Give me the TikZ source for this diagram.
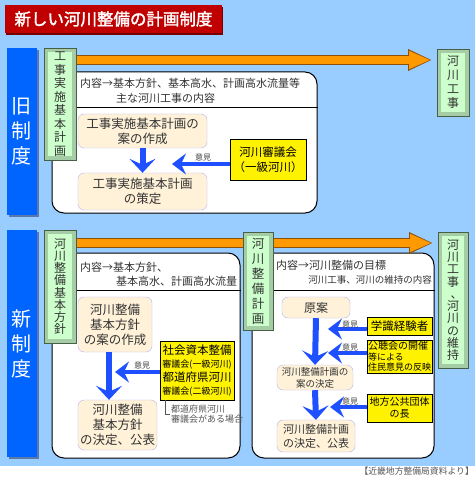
\documentclass[tikz,border=0pt]{standalone}
\usepackage{fontspec}
\setmainfont{Noto Sans CJK JP}
\newfontfamily\bannerfont[FakeBold=2]{Noto Sans CJK JP}
\usetikzlibrary{arrows.meta,positioning,shadows}

\definecolor{skyback}{RGB}{153,204,255}
\definecolor{banner}{RGB}{192,0,0}
\definecolor{bannerdark}{RGB}{120,0,0}
\definecolor{tabblue}{RGB}{0,100,255}
\definecolor{tabshade}{RGB}{90,120,170}
\definecolor{labelgreen}{RGB}{204,255,204}
\definecolor{bevelgreen}{RGB}{165,205,165}
\definecolor{edgegreen}{RGB}{70,95,70}
\definecolor{arroworange}{RGB}{255,153,0}
\definecolor{orangeedge}{RGB}{140,80,10}
\definecolor{draftbeige}{RGB}{255,242,217}
\definecolor{draftedge}{RGB}{180,180,240}
\definecolor{flowblue}{RGB}{30,80,255}
\definecolor{notegray}{RGB}{85,85,85}

\begin{document}
\begin{tikzpicture}[x=1pt,y=-1pt,
  tab/.style={fill=tabblue,text=white,align=center,inner sep=0pt,font=\fontsize{20}{25}\selectfont,
    drop shadow={shadow xshift=2pt,shadow yshift=-2pt,fill=tabshade,opacity=1}},
  vlabel/.style={draw=edgegreen,fill=bevelgreen,line width=0.6pt,inner sep=0pt,align=center,text=black!80,
    font=\fontsize{12}{13.5}\selectfont,
    path picture={\fill[labelgreen] ([shift={(4pt,-4pt)}]path picture bounding box.north west) rectangle ([shift={(-4pt,4pt)}]path picture bounding box.south east);}},
  panel/.style={draw,line width=1pt,fill=white,rounded corners=12pt},
  head/.style={anchor=west,inner sep=0pt,text=black!80,font=\fontsize{11}{13}\selectfont},
  draft/.style={draw=draftedge,fill=draftbeige,rounded corners=6pt,align=center,inner sep=1pt,text=black!80,font=\fontsize{12.5}{15}\selectfont},
  council/.style={draw,fill=yellow,line width=0.7pt,align=center,inner sep=1pt,font=\fontsize{11.5}{15}\selectfont},
  flow/.style={-{Stealth[length=14pt,width=26pt,inset=6pt]},draw=flowblue,line width=6pt},
  opinion/.style={-{Stealth[length=14pt,width=21pt,inset=5pt]},draw=flowblue,line width=4.5pt},
  iken/.style={inner sep=0pt,text=black!75,font=\fontsize{8}{8}\selectfont},
  orangeline/.style={draw=orangeedge,line width=10.5pt,-{Triangle[length=24pt,width=20pt]}},
  orangefill/.style={draw=arroworange,line width=8.5pt,-{Triangle[length=21.5pt,width=16.5pt]}}]

\useasboundingbox (0,0) rectangle (475,478);
\fill[skyback] (0,0) rectangle (475,466);

\node[fill=banner,text=white,minimum width=217pt,minimum height=28pt,inner sep=0pt,font=\bannerfont\fontsize{16.5}{18}\selectfont,
  drop shadow={shadow xshift=1pt,shadow yshift=-2pt,fill=bannerdark,opacity=1}] (title) at (113.5,19) {新しい河川整備の計画制度};

\node[tab,minimum width=30pt,minimum height=167pt] (oldtab) at (22,131.5) {旧\\制\\度};
\node[tab,minimum width=30pt,minimum height=227pt] (newtab) at (22,343.5) {新\\制\\度};

% old system
\node[panel,minimum width=265pt,minimum height=141pt] (oldpanel) at (184.5,142.5) {};
\draw[line width=0.9pt] ([yshift=-36pt]oldpanel.north west) -- ([yshift=-36pt]oldpanel.north east);
\node[head] (oldhead) at (80,83) {内容→基本方針、基本高水、計画高水流量等};
\node[head] (oldhead2) at (116,98) {主な河川工事の内容};

\coordinate (o1) at (432,60);
\draw[orangeline] (76,60) -- (o1);
\draw[orangefill] (76,60) -- ([xshift=-1.3pt]o1);

\node[vlabel,minimum width=32pt,minimum height=112pt] (oldlbl) at (60,104) {工\\事\\実\\施\\基\\本\\計\\画};
\node[vlabel,minimum width=32pt,minimum height=67pt,font=\fontsize{12}{14}\selectfont] (works) at (453,82.5) {河\\川\\工\\事};

\node[draft,minimum width=129pt,minimum height=34pt] (draft) at (142.5,131) {工事実施基本計画の\\案の作成};
\node[draft,minimum width=129pt,minimum height=37pt] (decided) at (142.5,191.5) {工事実施基本計画\\の策定};
\node[council,minimum width=76pt,minimum height=41pt] (council) at (268,159.5) {河川審議会\\（一級河川）};

\draw[flow] (draft.south) -- (decided.north);
\coordinate (t0) at (172,164);
\draw[opinion] (council.west |- t0) -- (t0);
\node[iken] (iken0) at (203,157) {意見};

% new system
\node[panel,minimum width=188pt,minimum height=205pt] (policypanel) at (146,355.5) {};
\node[panel,minimum width=182pt,minimum height=205pt] (planpanel) at (343,355.5) {};
\draw[line width=0.9pt] ([yshift=-38pt]policypanel.north west) -- ([yshift=-38pt]policypanel.north east);
\draw[line width=0.9pt] ([yshift=-38pt]planpanel.north west) -- ([yshift=-38pt]planpanel.north east);
\node[head] (polhead) at (80,267) {内容→基本方針、};
\node[head] (polhead2) at (116,281) {基本高水、計画高水流量};
\node[head] (planhead) at (276,265) {内容→河川整備の目標};
\node[head,anchor=east,font=\fontsize{9.5}{11}\selectfont] (planhead2) at (432,280) {河川工事、河川の維持の内容};

\coordinate (o2) at (433,243);
\draw[orangeline] (76,243) -- (o2);
\draw[orangefill] (76,243) -- ([xshift=-1.3pt]o2);

\node[vlabel,minimum width=32pt,minimum height=113pt,font=\fontsize{12}{12.2}\selectfont] (newlbl) at (60,286.5) {河\\川\\整\\備\\基\\本\\方\\針};
\node[vlabel,minimum width=30pt,minimum height=98pt,font=\fontsize{12.5}{15}\selectfont] (planlbl) at (258,281) {河\\川\\整\\備\\計\\画};
\node[vlabel,minimum width=30pt,minimum height=136pt,font=\fontsize{12}{12.3}\selectfont] (maint) at (453,300) {河\\川\\工\\事\\\hspace*{7pt}、\\河\\川\\の\\維\\持};

\node[draft,minimum width=74pt,minimum height=55pt] (pdraft) at (115,324.5) {河川整備\\基本方針\\の案の作成};
\node[draft,minimum width=79pt,minimum height=50pt] (pfinal) at (117.5,425) {河川整備\\基本方針\\の決定、公表};
\node[council,minimum width=74pt,minimum height=59pt,font=\fontsize{11.5}{13.5}\selectfont] (society) at (197,370.5)
  {社会資本整備\\{\fontsize{9}{13.5}\selectfont 審議会(一級河川)}\\都道府県河川\\{\fontsize{9}{13.5}\selectfont 審議会(二級河川)}};
\node[anchor=west,align=left,inner sep=1pt,text=notegray,font=\fontsize{9}{10}\selectfont] (note) at (170,414) {都道府県河川\\審議会がある場合};
\draw[notegray,line width=0.6pt] ([xshift=-32pt]society.south) |- (note.west);

\draw[flow] ([xshift=-6pt]pdraft.south) -- ([xshift=-6pt]pdraft.south |- pfinal.north);
\coordinate (t1) at (115,372);
\draw[opinion] (society.west |- t1) -- (t1);
\node[iken] (iken1) at (142,365) {意見};

\node[draft,minimum width=68pt,minimum height=21pt,font=\fontsize{12}{14}\selectfont] (genan) at (316,307.5) {原案};
\node[draft,minimum width=76pt,minimum height=25pt,font=\fontsize{9.5}{12}\selectfont] (rdraft) at (315,377.5) {河川整備計画の\\案の決定};
\node[draft,minimum width=78pt,minimum height=32pt,font=\fontsize{11}{14}\selectfont] (rfinal) at (316,436) {河川整備計画\\の決定、公表};

\node[council,minimum width=65pt,minimum height=18pt] (expert) at (399.5,326) {学識経験者};
\node[council,minimum width=65pt,minimum height=33pt,align=left,font=\fontsize{9}{10.5}\selectfont] (hearing) at (399.5,356.5)
  {{\fontsize{10}{10.5}\selectfont 公聴会の開催}\\等による\\住民意見の反映};
\node[council,minimum width=65pt,minimum height=28pt,font=\fontsize{10}{12}\selectfont] (local) at (399.5,408) {地方公共団体\\の長};

\draw[flow] (genan.south) -- (rdraft.north);
\draw[flow] (rdraft.south) -- (rfinal.north);
\coordinate (t2) at (328,329);
\coordinate (t3) at (328,353);
\coordinate (t4) at (330,407);
\draw[opinion] (expert.west |- t2) -- (t2);
\draw[opinion] (hearing.west |- t3) -- (t3);
\draw[opinion] (local.west |- t4) -- (t4);
\node[iken] (iken2) at (350,324) {意見};
\node[iken] (iken3) at (350,347) {意見};
\node[iken] (iken4) at (350,401) {意見};

\node[anchor=east,inner sep=0pt,text=notegray,font=\fontsize{8.8}{9}\selectfont] (source) at (474,471) {【近畿地方整備局資料より】};
\end{tikzpicture}
\end{document}
